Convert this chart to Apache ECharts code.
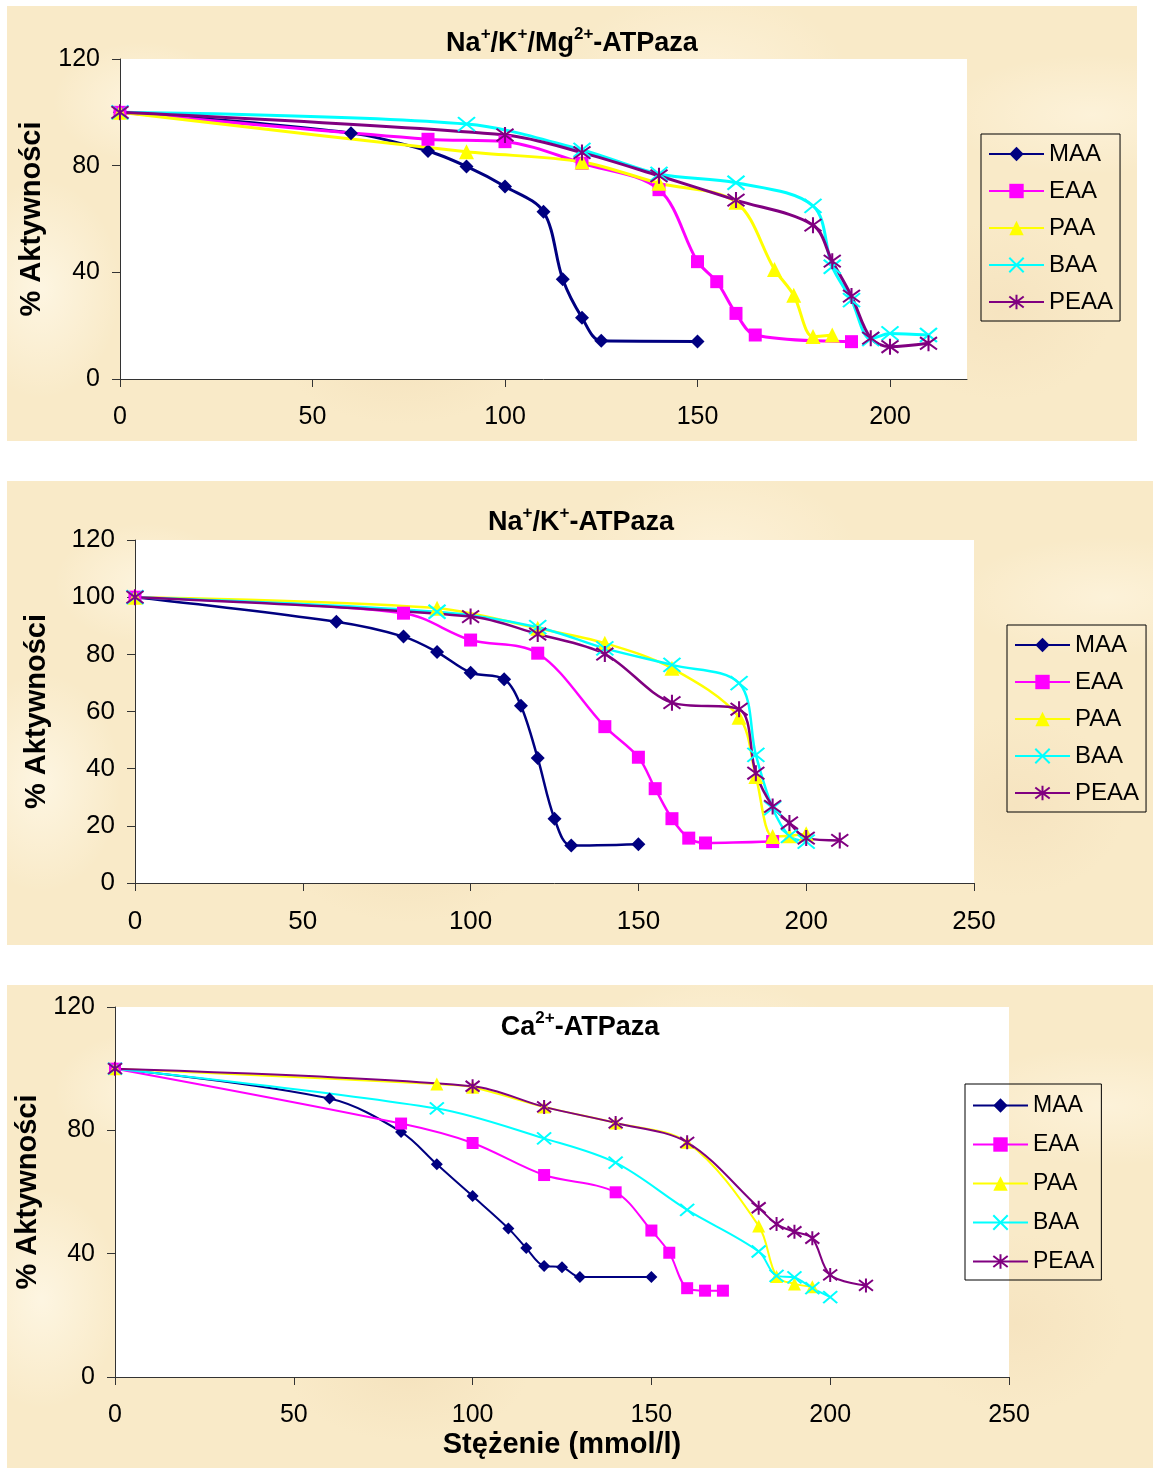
<!DOCTYPE html>
<html>
<head>
<meta charset="utf-8">
<title>Aktywność ATPaz</title>
<script src="https://cdn.jsdelivr.net/npm/echarts@6/dist/echarts.min.js"></script>
<style>
  html, body { margin: 0; padding: 0; background: #ffffff; }
  #page { position: relative; width: 1153px; height: 1470px; overflow: hidden; }
  .panel {
    position: absolute;
    background-color: #f9eac8;
    background-image:
      radial-gradient(ellipse 90px 60px at 12% 22%, rgba(255, 248, 230, 0.7), rgba(255, 248, 230, 0) 100%),
      radial-gradient(ellipse 120px 70px at 35% 80%, rgba(240, 218, 178, 0.45), rgba(240, 218, 178, 0) 100%),
      radial-gradient(ellipse 140px 80px at 62% 15%, rgba(255, 246, 226, 0.6), rgba(255, 246, 226, 0) 100%),
      radial-gradient(ellipse 110px 90px at 88% 70%, rgba(242, 220, 182, 0.45), rgba(242, 220, 182, 0) 100%),
      radial-gradient(ellipse 80px 110px at 3% 65%, rgba(255, 250, 236, 0.7), rgba(255, 250, 236, 0) 100%),
      radial-gradient(ellipse 150px 60px at 96% 25%, rgba(255, 247, 228, 0.6), rgba(255, 247, 228, 0) 100%);
  }
  #chart { position: absolute; left: 0; top: 0; width: 1153px; height: 1470px; }
</style>
</head>
<body>
<div id="page">
  <div class="panel" style="left:7px; top:6px; width:1130px; height:435px;"></div>
  <div class="panel" style="left:7px; top:481px; width:1146px; height:464px;"></div>
  <div class="panel" style="left:7px; top:985px; width:1146px; height:483px;"></div>
  <div id="chart"></div>
</div>
<script>
// ---- Na+/K+/Mg2+-ATPaza ----
const mgMAA_x  = [0, 60, 80, 90, 100, 110, 115, 120, 125, 150];
const mgMAA_y  = [100, 92.2, 85.5, 79.7, 72.2, 62.7, 37.4, 23, 14.3, 14.1];
const mgEAA_x  = [0, 80, 100, 120, 140, 150, 155, 160, 165, 190];
const mgEAA_y  = [100, 89.9, 89, 80.9, 71, 44, 36.5, 24.6, 16.5, 14];
const mgPAA_x  = [0, 90, 120, 140, 160, 170, 175, 180, 185];
const mgPAA_y  = [100, 85.2, 81.4, 73.4, 66.3, 41.1, 31.4, 15.9, 16.5];
const mgBAA_x  = [0, 90, 120, 140, 160, 180, 185, 190, 195, 200, 210];
const mgBAA_y  = [100, 95.6, 85.9, 76.9, 73.6, 64.9, 42.1, 29.6, 15, 17.1, 16.5];
const mgPEAA_x = [0, 100, 120, 140, 160, 180, 185, 190, 195, 200, 210];
const mgPEAA_y = [100, 91.5, 84.9, 76.2, 67.1, 57.7, 44.2, 31.1, 15.3, 12.1, 13.4];

// ---- Na+/K+-ATPaza ----
const naMAA_x  = [0, 60, 80, 90, 100, 110, 115, 120, 125, 130, 150];
const naMAA_y  = [100, 91.4, 86.2, 80.8, 73.6, 71.3, 62, 43.7, 22.5, 13.1, 13.6];
const naEAA_x  = [0, 80, 100, 120, 140, 150, 155, 160, 165, 170, 190];
const naEAA_y  = [100, 94.4, 85, 80.4, 54.7, 44, 33, 22.5, 15.7, 14, 14.5];
const naPAA_x  = [0, 90, 120, 140, 160, 180, 185, 190, 195, 200];
const naPAA_y  = [100, 96.1, 89.1, 83.9, 75.1, 58, 37.3, 16.3, 16.5, 17.2];
const naBAA_x  = [0, 90, 120, 140, 160, 180, 185, 190, 195, 200];
const naBAA_y  = [100, 94.9, 89.5, 82.1, 76.3, 69.9, 44.8, 26.2, 16.5, 14.5];
const naPEAA_x = [0, 100, 120, 140, 160, 180, 185, 190, 195, 200, 210];
const naPEAA_y = [100, 93.2, 87.1, 80.1, 63.1, 60.8, 38.4, 26.8, 21, 15.7, 14.9];

// ---- Ca2+-ATPaza ----
const caMAA_x  = [0, 60, 80, 90, 100, 110, 115, 120, 125, 130, 150];
const caMAA_y  = [100, 90.3, 79.5, 69, 58.7, 48.2, 41.8, 36, 35.6, 32.4, 32.4];
const caEAA_x  = [0, 80, 100, 120, 140, 150, 155, 160, 165, 170];
const caEAA_y  = [100, 82.2, 75.9, 65.5, 59.9, 47.5, 40.3, 28.8, 28, 28];
const caPAA_x  = [0, 90, 100, 120, 140, 160, 180, 185, 190, 195];
const caPAA_y  = [100, 95, 94, 87.6, 82.4, 76.1, 49, 32.6, 30.2, 29.3];
const caBAA_x  = [0, 90, 120, 140, 160, 180, 185, 190, 195, 200];
const caBAA_y  = [100, 87.1, 77.4, 69.5, 54.2, 40.7, 32.8, 32.3, 28.8, 25.9];
const caPEAA_x = [0, 100, 120, 140, 160, 180, 185, 190, 195, 200, 210];
const caPEAA_y = [100, 94.3, 87.6, 82.4, 76.1, 54.9, 49.6, 47.1, 45, 33.1, 29.7];

// series names and axis tick labels
const seriesNames = ['MAA', 'EAA', 'PAA', 'BAA', 'PEAA'];
const xTicks = [0, 50, 100, 150, 200];
const xTicksWide = [0, 50, 100, 150, 200, 250];
const yTicks40 = [0, 40, 80, 120];
const yTicks20 = [0, 20, 40, 60, 80, 100, 120];

const FONT = '"Liberation Sans", Arial, Helvetica, sans-serif';
const AXIS_COLOR = '#333333';

const COLORS = {
  MAA: '#000080',
  EAA: '#ff00ff',
  PAA: '#ffff00',
  BAA: '#00ffff',
  PEAA: '#800080'
};
const CROSS = 'path://M0,0L10,10M10,0L0,10';
const STAR = 'path://M0,1.5L10,11.5M10,1.5L0,11.5M5,0L5,13';
const SYMBOLS = {
  MAA: 'diamond',
  EAA: 'rect',
  PAA: 'triangle',
  BAA: CROSS,
  PEAA: STAR
};

function zip(xs, ys) {
  return xs.map((x, i) => [x, ys[i]]);
}

// one line series per compound, placed on the given grid
function makeSeries(name, xs, ys, gridIdx, lineWidth, sizes) {
  const stroked = name === 'BAA' || name === 'PEAA';
  return {
    name: name,
    type: 'line',
    xAxisIndex: gridIdx,
    yAxisIndex: gridIdx,
    data: zip(xs, ys),
    smooth: 0.33,
    symbol: SYMBOLS[name],
    symbolSize: sizes[name],
    showAllSymbol: true,
    lineStyle: { color: COLORS[name], width: lineWidth },
    itemStyle: stroked
      ? { color: COLORS[name], borderColor: COLORS[name], borderWidth: 2 }
      : { color: COLORS[name], borderWidth: 0 },
    emphasis: { disabled: true },
    z: 3
  };
}

function makeXAxis(gridIdx, max, ticks, labelSize, extra) {
  return Object.assign({
    gridIndex: gridIdx,
    type: 'value',
    min: 0,
    max: max,
    interval: 50,
    axisLine: { show: true, onZero: false, lineStyle: { color: AXIS_COLOR, width: 1 } },
    axisTick: { show: true, inside: false, length: 8, customValues: ticks, lineStyle: { color: AXIS_COLOR } },
    axisLabel: { fontSize: labelSize, fontFamily: FONT, color: '#000', margin: 26, customValues: ticks },
    splitLine: { show: false }
  }, extra || {});
}

function makeYAxis(gridIdx, interval, ticks, labelSize, nameGap) {
  return {
    gridIndex: gridIdx,
    type: 'value',
    min: 0,
    max: 120,
    interval: interval,
    name: '% Aktywności',
    nameLocation: 'middle',
    nameGap: nameGap,
    nameTextStyle: { fontSize: 29, fontWeight: 'bold', fontFamily: FONT, color: '#000' },
    axisLine: { show: true, onZero: false, lineStyle: { color: AXIS_COLOR, width: 1 } },
    axisTick: { show: true, inside: false, length: 8, customValues: ticks, lineStyle: { color: AXIS_COLOR } },
    axisLabel: { fontSize: labelSize, fontFamily: FONT, color: '#000', margin: 20, customValues: ticks },
    splitLine: { show: false }
  };
}

function makeLegend(left, top, padding, gap, fontSize) {
  return {
    orient: 'vertical',
    left: left,
    top: top,
    padding: padding,
    itemGap: gap,
    itemWidth: 55,
    itemHeight: 18,
    borderColor: '#000',
    borderWidth: 1,
    backgroundColor: 'transparent',
    selectedMode: false,
    textStyle: { fontSize: fontSize, fontFamily: FONT, color: '#000', lineHeight: 22 },
    data: seriesNames
  };
}

function richTitle(text, centerX, top) {
  return {
    text: text,
    left: centerX,
    top: top,
    textAlign: 'center',
    padding: 0,
    textStyle: {
      rich: {
        m: { fontSize: 27, fontWeight: 'bold', fontFamily: FONT, color: '#000', lineHeight: 36 },
        s: { fontSize: 17, fontWeight: 'bold', fontFamily: FONT, color: '#000', lineHeight: 6, verticalAlign: 'top' }
      }
    }
  };
}

const sizes1 = { MAA: 14, EAA: 13, PAA: 15, BAA: [17, 14], PEAA: [17, 16] };
const sizes2 = { MAA: 14, EAA: 13, PAA: 15, BAA: [17, 14], PEAA: [17, 16] };
const sizes3 = { MAA: 12, EAA: 12, PAA: 13, BAA: [14, 12], PEAA: [14, 14] };

const option = {
  animation: false,
  backgroundColor: 'transparent',
  title: [
    richTitle('{m|Na}{s|+}{m|/K}{s|+}{m|/Mg}{s|2+}{m|-ATPaza}', 572, 26),
    richTitle('{m|Na}{s|+}{m|/K}{s|+}{m|-ATPaza}', 581, 505),
    richTitle('{m|Ca}{s|2+}{m|-ATPaza}', 580, 1010)
  ],
  legend: [
    makeLegend(981, 134, [8, 7, 7, 7], 13, 24),
    makeLegend(1007, 625, [8, 7, 7, 7], 13, 24),
    makeLegend(965, 1084, [10, 7, 7, 7], 16, 23)
  ],
  grid: [
    { left: 120, top: 59, width: 847, height: 320, show: true, backgroundColor: '#ffffff', borderWidth: 0 },
    { left: 135, top: 540, width: 839, height: 343, show: true, backgroundColor: '#ffffff', borderWidth: 0 },
    { left: 115, top: 1007, width: 894, height: 370, show: true, backgroundColor: '#ffffff', borderWidth: 0 }
  ],
  xAxis: [
    makeXAxis(0, 220, xTicks, 25),
    makeXAxis(1, 250, xTicksWide, 26),
    makeXAxis(2, 250, xTicksWide, 25, {
      name: 'Stężenie (mmol/l)',
      nameLocation: 'middle',
      nameGap: 53,
      nameTextStyle: { fontSize: 29, fontWeight: 'bold', fontFamily: FONT, color: '#000' }
    })
  ],
  yAxis: [
    makeYAxis(0, 40, yTicks40, 25, 74),
    makeYAxis(1, 20, yTicks20, 26, 84),
    makeYAxis(2, 40, yTicks40, 25, 70)
  ],
  series: [
    makeSeries('MAA', mgMAA_x, mgMAA_y, 0, 3, sizes1),
    makeSeries('EAA', mgEAA_x, mgEAA_y, 0, 3, sizes1),
    makeSeries('PAA', mgPAA_x, mgPAA_y, 0, 3, sizes1),
    makeSeries('BAA', mgBAA_x, mgBAA_y, 0, 3, sizes1),
    makeSeries('PEAA', mgPEAA_x, mgPEAA_y, 0, 3, sizes1),

    makeSeries('MAA', naMAA_x, naMAA_y, 1, 2.5, sizes2),
    makeSeries('EAA', naEAA_x, naEAA_y, 1, 2.5, sizes2),
    makeSeries('PAA', naPAA_x, naPAA_y, 1, 2.5, sizes2),
    makeSeries('BAA', naBAA_x, naBAA_y, 1, 2.5, sizes2),
    makeSeries('PEAA', naPEAA_x, naPEAA_y, 1, 2.5, sizes2),

    makeSeries('MAA', caMAA_x, caMAA_y, 2, 2, sizes3),
    makeSeries('EAA', caEAA_x, caEAA_y, 2, 2, sizes3),
    makeSeries('PAA', caPAA_x, caPAA_y, 2, 2, sizes3),
    makeSeries('BAA', caBAA_x, caBAA_y, 2, 2, sizes3),
    makeSeries('PEAA', caPEAA_x, caPEAA_y, 2, 2, sizes3)
  ]
};

const chart = echarts.init(document.getElementById('chart'), null, { renderer: 'canvas' });
chart.setOption(option);
</script>
</body>
</html>
